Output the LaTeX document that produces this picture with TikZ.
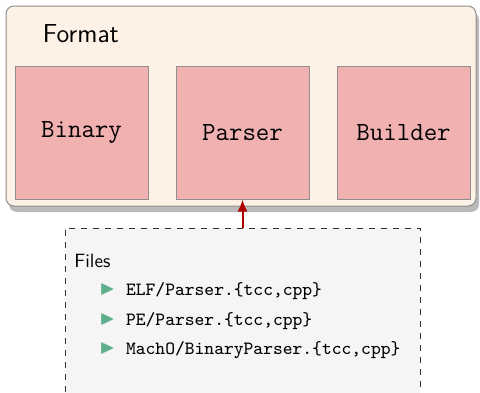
\documentclass[tikz,border=0pt]{standalone}
\usepackage{fontspec}
\usepackage{amssymb}
\usepackage{tikz}
\usetikzlibrary{
  arrows.meta,
  positioning,
  shadows
}
\definecolor{fmtBg}{HTML}{FEF1E5}
\definecolor{fmtEdge}{HTML}{8E8E8E}
\definecolor{partFill}{HTML}{F2B1B1}
\definecolor{depRed}{HTML}{B00000}
\definecolor{fileBg}{HTML}{F5F5F5}
\definecolor{bulletGreen}{HTML}{5DAE8B}
\tikzset{
  fmtgroup/.style={
    draw=fmtEdge, fill=fmtBg, rounded corners=4pt, line width=0.5pt,
    drop shadow={shadow xshift=1.5pt, shadow yshift=-3pt, fill=black!27, opacity=1}
  },
  grouptitle/.style={font=\fontsize{13}{15}\selectfont\sffamily, inner sep=0pt, text height=9pt, text depth=0pt},
  part/.style={
    draw=fmtEdge, fill=partFill, line width=0.5pt,
    minimum width=66.5pt, minimum height=66.5pt,
    font=\fontsize{13.1}{15}\selectfont\ttfamily
  },
  filebox/.style={draw=black!80, fill=fileBg, dashed, line width=0.5pt,
    minimum width=177.5pt, minimum height=100pt},
  filetitle/.style={font=\fontsize{9.6}{11}\selectfont\sffamily, inner sep=0pt, text height=7pt, text depth=0pt},
  fileitem/.style={font=\fontsize{9.33}{11}\selectfont\ttfamily, inner sep=0pt, text height=7pt, text depth=2.5pt},
  bulletmark/.style={text=bulletGreen, inner sep=0pt, font=\fontsize{10}{10}\selectfont},
  depends/.style={-{Latex[length=6pt,width=5pt]}, line width=1pt, depRed}
}
\newcommand{\itemmark}{$\blacktriangleright$}

\begin{document}
\begin{tikzpicture}
  \useasboundingbox (0,0) rectangle (240pt,-196pt);
  \clip (0,0) rectangle (240pt,-196pt);
  % the format module and its three parts
  \node[fmtgroup, minimum width=235pt, minimum height=100pt] (format) at (120.5pt,-53pt) {};
  \node[grouptitle, below right=9.3pt and 18.5pt of format.north west] (fmtname) {Format};
  \node[part] (parser) at (121.25pt,-66.25pt) {Parser};
  \node[part, left=13.5pt of parser] (binary) {Binary};
  \node[part, right=13.5pt of parser] (builder) {Builder};
  % source files behind the parser
  \node[filebox, below=14pt of parser] (files) {};
  \node[filetitle, below right=12.8pt and 4.75pt of files.north west] (ftitle) {Files};
  \node[fileitem, below right=6.7pt and 25.85pt of ftitle.south west] (item1) {ELF/Parser.\{tcc,cpp\}};
  \node[fileitem, below right=4.85pt and 0pt of item1.south west] (item2) {PE/Parser.\{tcc,cpp\}};
  \node[fileitem, below right=4.85pt and 0pt of item2.south west] (item3) {MachO/BinaryParser.\{tcc,cpp\}};
  \foreach \i in {1,2,3}
    \node[bulletmark, left=5pt of item\i, yshift=0.8pt] (mark\i) {\itemmark};
  \draw[depends] (files) -- (parser);
\end{tikzpicture}
\end{document}
